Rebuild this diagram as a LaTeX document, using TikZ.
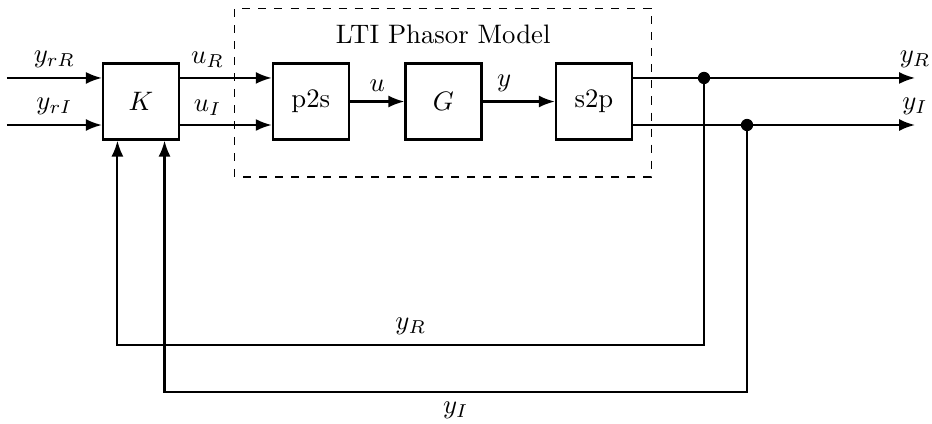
\documentclass[tikz,border=0pt]{standalone}
\usetikzlibrary{arrows.meta}
\begin{document}
\begin{tikzpicture}[
    blk/.style={draw, thick, minimum size=1cm, inner sep=0pt},
    sig/.style={thick, -{Latex[length=6pt,width=4.5pt]}},
    junc/.style={circle, fill, inner sep=0pt, minimum size=4.6pt}
  ]
  \useasboundingbox (0,0) rectangle (12.263,5.579);

  % LTI phasor model frame
  \draw[dashed] (3.09,3.25) rectangle (8.566,5.47);
  \node (title) at (5.83,5.12) {LTI Phasor Model};

  % blocks
  \node[blk] (K) at (1.855,4.243) {$K$};
  \node[blk] (p2s) at (4.09,4.243) {p2s};
  \node[blk] (G) at (5.835,4.243) {$G$};
  \node[blk] (s2p) at (7.815,4.243) {s2p};

  % signal rows and points
  \coordinate (rR) at (0.09,4.553);
  \coordinate (rI) at (0.09,3.934);
  \coordinate (oR) at (12.04,4.553);
  \coordinate (oI) at (12.04,3.934);
  \node[junc] (dR) at (9.263,4.553) {};
  \node[junc] (dI) at (9.829,3.934) {};
  \coordinate (fR) at (1.545,1.039);
  \coordinate (fI) at (2.165,0.421);

  % references
  \draw[sig] (rR) -- (K.west|-rR) node[midway, above]{$y_{rR}$};
  \draw[sig] (rI) -- (K.west|-rI) node[midway, above]{$y_{rI}$};

  % through the model
  \draw[sig] (K.east|-rR) -- (p2s.west|-rR) node[pos=0.3, above]{$u_R$};
  \draw[sig] (K.east|-rI) -- (p2s.west|-rI) node[pos=0.3, above]{$u_I$};
  \draw[sig] (p2s) -- (G) node[midway, above]{$u$};
  \draw[sig] (G) -- (s2p) node[pos=0.3, above]{$y$};

  % outputs
  \draw[sig] (s2p.east|-rR) -- (oR) node[above]{$y_R$};
  \draw[sig] (s2p.east|-rI) -- (oI) node[above]{$y_I$};

  % feedback
  \draw[sig] (dR.center) |- (fR) node[pos=0.75, above]{$y_R$} -- (fR|-K.south);
  \draw[sig] (dI.center) |- (fI) node[pos=0.75, below]{$y_I$} -- (fI|-K.south);
\end{tikzpicture}
\end{document}
